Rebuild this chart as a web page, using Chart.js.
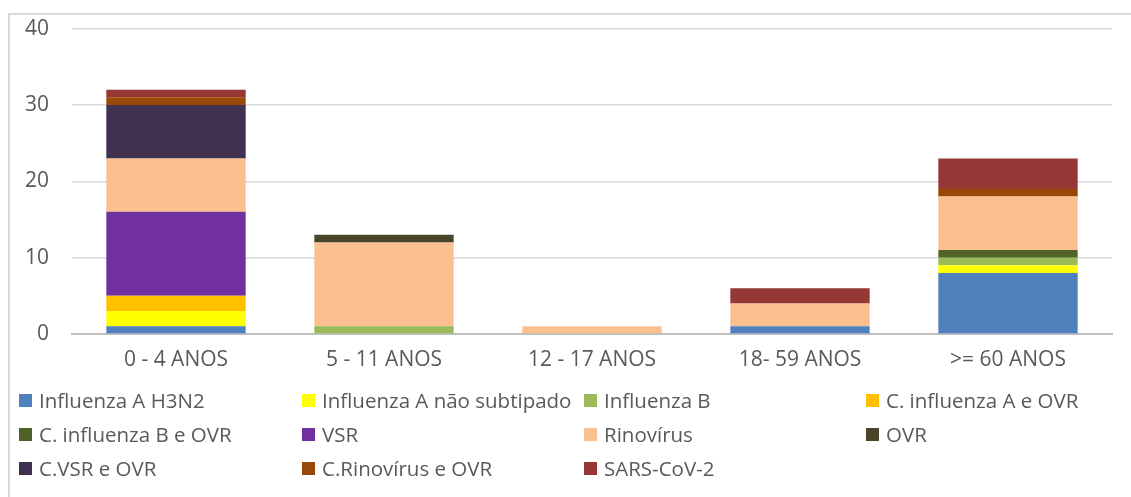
<!DOCTYPE html>
<html>
<head>
<meta charset="utf-8">
<script src="https://cdn.jsdelivr.net/npm/chart.js@4"></script>
<style>
  html, body { margin: 0; padding: 0; background: #fff; }
  #wrap { position: relative; width: 1131px; height: 497px; overflow: hidden; font-family: "Open Sans", sans-serif; }
  #frame { position: absolute; left: 8px; top: 13px; width: 1200px; height: 600px; border: 2px solid #d9d9d9; box-sizing: border-box; }
  #chartBox { position: absolute; left: 0; top: -7px; width: 1131px; height: 387px; }
  #legend { position: absolute; left: 0; top: 0; width: 1131px; height: 497px; pointer-events: none; }
  .item { position: absolute; display: flex; align-items: center; font-size: 20.5px; color: #595959; white-space: nowrap; }
  .item span.box { width: 13px; height: 13px; margin-right: 7px; display: inline-block; }
</style>
</head>
<body>
<div id="wrap">
  <div id="frame"></div>
  <div id="chartBox"><canvas id="chart"></canvas></div>
  <div id="legend"></div>
</div>
<script>
// faixas etarias
const labels = ["0 - 4 ANOS", "5 - 11 ANOS", "12 - 17 ANOS", "18- 59 ANOS", ">= 60 ANOS"];
const yTicks = [0, 10, 20, 30, 40];

// casos por agente
const h3n2      = [1, 0, 0, 1, 8];
const fluANs    = [2, 0, 0, 0, 1];
const fluB      = [0, 1, 0, 0, 1];
const cFluA     = [2, 0, 0, 0, 0];
const cFluB     = [0, 0, 0, 0, 1];
const vsr       = [11, 0, 0, 0, 0];
const rino      = [7, 11, 1, 3, 7];
const ovr       = [0, 1, 0, 0, 0];
const cVsr      = [7, 0, 0, 0, 0];
const cRino     = [1, 0, 0, 0, 1];
const sars      = [1, 0, 0, 2, 4];

const series = [
  { label: "Influenza A H3N2", data: h3n2, color: "#4F81BD" },
  { label: "Influenza A não subtipado", data: fluANs, color: "#FFFF00" },
  { label: "Influenza B", data: fluB, color: "#9BBB59" },
  { label: "C. influenza A e OVR", data: cFluA, color: "#FFC000" },
  { label: "C. influenza B e OVR", data: cFluB, color: "#4F6228" },
  { label: "VSR", data: vsr, color: "#7030A0" },
  { label: "Rinovírus", data: rino, color: "#FAC090" },
  { label: "OVR", data: ovr, color: "#4A452A" },
  { label: "C.VSR e OVR", data: cVsr, color: "#403151" },
  { label: "C.Rinovírus e OVR", data: cRino, color: "#984807" },
  { label: "SARS-CoV-2", data: sars, color: "#953735" }
];

// posicao das colunas da legenda (estilo excel)
const legendCols = [19, 302, 584, 866];
const legendRows = [400, 434, 468];

const ctx = document.getElementById("chart").getContext("2d");
const chart = new Chart(ctx, {
  type: "bar",
  data: {
    labels,
    datasets: series.map(s => ({
      label: s.label,
      data: s.data,
      backgroundColor: s.color,
      borderWidth: 0,
      categoryPercentage: 1,
      barPercentage: 0.67
    }))
  },
  options: {
    responsive: true,
    maintainAspectRatio: false,
    animation: false,
    layout: { padding: { top: 16, right: 19, left: 0, bottom: 0 } },
    plugins: { legend: { display: false }, tooltip: { enabled: false } },
    scales: {
      x: {
        stacked: true,
        grid: { display: false },
        border: { color: "#bfbfbf", width: 2 },
        ticks: { color: "#595959", font: { family: "Open Sans", size: 21 }, padding: 5, maxRotation: 0 },
        afterFit: axis => { axis.height = 46; }
      },
      y: {
        stacked: true,
        min: 0,
        max: 40,
        afterBuildTicks: axis => { axis.ticks = yTicks.map(v => ({ value: v })); },
        grid: { color: "#d9d9d9", lineWidth: 1.5, drawTicks: false },
        border: { display: false },
        ticks: { color: "#595959", font: { family: "Open Sans", size: 21 }, padding: 23 },
        afterFit: axis => { axis.width = 72; }
      }
    }
  }
});

// legenda em html, 4 colunas
const legend = document.getElementById("legend");
series.forEach((s, i) => {
  const el = document.createElement("div");
  el.className = "item";
  el.style.left = legendCols[i % 4] + "px";
  el.style.top = (legendRows[Math.floor(i / 4)] - 14) + "px";
  el.style.height = "28px";
  el.innerHTML = `<span class="box" style="background:${s.color}"></span>${s.label}`;
  legend.appendChild(el);
});
</script>
</body>
</html>
